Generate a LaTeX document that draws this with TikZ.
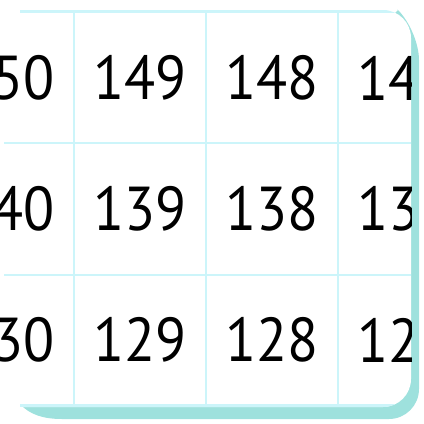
\documentclass[tikz,border=0pt]{standalone}
\usepackage{fontspec}
\setmainfont[FakeStretch=0.92]{PT Sans}
\definecolor{gridcyan}{RGB}{204,245,250}
\definecolor{shadowteal}{RGB}{158,225,221}
\tikzset{
  numlabel/.style={font=\fontsize{62}{62}\selectfont, inner sep=0pt, anchor=center},
  gridline/.style={gridcyan, line width=2.8pt}
}
\begin{document}
\begin{tikzpicture}[x=1pt, y=-1pt]
  \useasboundingbox (0, 0) rectangle (424, 424);
  % card shadow and card
  \fill [shadowteal] (20, 404) .. controls (30, 415) and (44, 419) .. (62, 419)
        [rounded corners=30] -- (419, 419) -- (419, 30) [sharp corners] -- (398, 10) -- cycle;
  \fill [white, rounded corners=28] (-60, 10) -- (411, 10) -- (411, 407) -- (-60, 407) -- cycle;
  \begin{scope}
    \clip [rounded corners=28] (-60, 10) -- (411, 10) -- (411, 407) -- (-60, 407) -- cycle;
    % grid
    \draw [gridline] (20, 11.5) -- (411, 11.5);
    \draw [gridline] (4, 143) -- (411, 143);
    \draw [gridline] (4, 275) -- (411, 275);
    \draw [gridline] (20, 405.5) -- (411, 405.5);
    \draw [gridline] (74, 11) -- (74, 406);
    \draw [gridline] (206, 11) -- (206, 406);
    \draw [gridline] (338, 11) -- (338, 406);
    % numbers
    \node [numlabel] (n150) at (8, 78) {150};
    \node [numlabel] (n149) at (140, 78) {149};
    \node [numlabel] (n148) at (272, 78) {148};
    \node [numlabel] (n147) at (404, 78) {147};
    \node [numlabel] (n140) at (8, 209) {140};
    \node [numlabel] (n139) at (140, 209) {139};
    \node [numlabel] (n138) at (272, 209) {138};
    \node [numlabel] (n137) at (404, 209) {137};
    \node [numlabel] (n130) at (8, 340) {130};
    \node [numlabel] (n129) at (140, 340) {129};
    \node [numlabel] (n128) at (272, 340) {128};
    \node [numlabel] (n127) at (404, 340) {127};
  \end{scope}
\end{tikzpicture}
\end{document}
